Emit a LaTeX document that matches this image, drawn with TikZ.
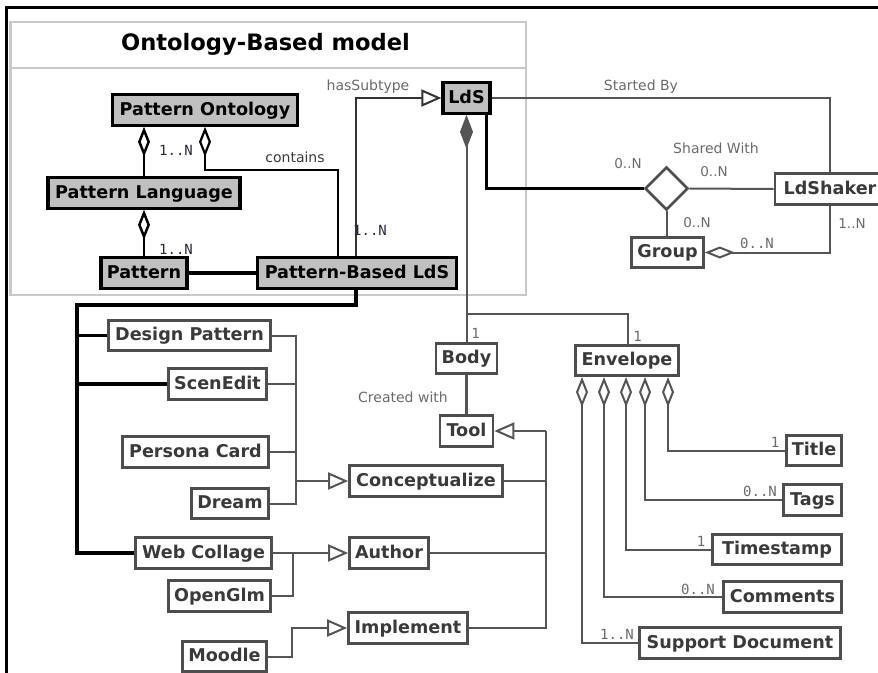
\documentclass[tikz,border=0pt]{standalone}
\usepackage{fontspec}
\setmainfont{DejaVu Sans}
\newfontfamily\monofont{DejaVu Sans Mono}
\usetikzlibrary{arrows.meta,shapes.geometric}
\definecolor{linegrey}{HTML}{555555}
\definecolor{boxgrey}{HTML}{4E4E4E}
\definecolor{textgrey}{HTML}{3A3A3A}
\definecolor{labelgrey}{HTML}{6A6A6A}
\definecolor{ontofill}{HTML}{C0C0C0}
\definecolor{pkggrey}{HTML}{C9C9C9}
\definecolor{multdark}{HTML}{2A2A38}
\begin{document}
\begin{tikzpicture}[x=1pt,y=-1pt,
  nodefont/.style={font=\bfseries\fontsize{17.6}{20}\selectfont},
  cls/.style={draw=boxgrey, line width=2.7pt, fill=white, text=textgrey, nodefont,
    inner sep=0pt, minimum height=30.5pt, text height=13pt, text depth=3pt},
  onto/.style={cls, draw=black, fill=ontofill, text=black, line width=3.2pt},
  conn/.style={draw=linegrey, line width=2pt},
  strong/.style={draw=black, line width=3.5pt},
  agg/.style={conn, {Diamond[length=30pt,width=12pt,fill=white]}-},
  comp/.style={conn, {Diamond[length=34pt,width=13pt,fill=linegrey]}-},
  gen/.style={conn, -{Triangle[length=20pt,width=17pt,fill=white]}},
  lbl/.style={font=\fontsize{14}{16}\selectfont, text=labelgrey, inner sep=0pt},
  mult/.style={font=\monofont\fontsize{14}{16}\selectfont, text=labelgrey, inner sep=0pt},
  pmult/.style={font=\fontsize{13.5}{16}\selectfont, text=labelgrey, inner sep=0pt},
]
\clip (0,0) rectangle (878,672);

% page frame
\draw[black, line width=3pt] (6.5,690) -- (6.5,7.5) -- (890,7.5);

% ontology package
\draw[pkggrey, line width=2.5pt] (10.5,22) rectangle (526,295);
\draw[pkggrey, line width=2.5pt] (10.5,68) -- (526,68);
\node[font=\bfseries\fontsize{22.6}{25}\selectfont, text=black] (pkgtitle) at (265.5,44) {Ontology-Based model};

% ontology classes
\node[onto, minimum width=185pt] (po)  at (205,110)   {Pattern Ontology};
\node[onto, minimum width=192pt] (pl)  at (144,193)   {Pattern Language};
\node[onto, minimum width=86pt]  (pat) at (144,273)   {Pattern};
\node[onto, minimum width=199pt] (pbl) at (357,273)   {Pattern-Based LdS};
\node[onto, minimum width=47pt]  (lds) at (466.5,98)  {LdS};

% LdS neighbourhood
\node[cls, minimum width=110pt] (shaker) at (830,189)   {LdShaker};
\node[cls, minimum width=72pt]  (group)  at (667.5,252.5) {Group};
\node[draw=boxgrey, line width=2.7pt, fill=white, diamond, minimum width=43pt,
      minimum height=43pt, inner sep=0pt] (sw) at (666.5,188.5) {};

\node[cls, minimum width=61pt]  (body)  at (466.5,358.5) {Body};
\node[cls, minimum width=53pt]  (tool)  at (466.5,431)   {Tool};
\node[cls, minimum width=103pt] (env)   at (627,360.5)   {Envelope};

\node[cls, minimum width=55pt]  (title) at (814,450.5) {Title};
\node[cls, minimum width=58pt]  (tags)  at (812.5,500) {Tags};
\node[cls, minimum width=129pt] (tstamp) at (777,549.5) {Timestamp};
\node[cls, minimum width=118pt] (comm)  at (782.5,597) {Comments};
\node[cls, minimum width=201pt] (sdoc)  at (740,643)   {Support Document};

% tools
\node[cls, minimum width=162pt] (dp)    at (189.5,335.5) {Design Pattern};
\node[cls, minimum width=98pt]  (se)    at (217.5,384)   {ScenEdit};
\node[cls, minimum width=146pt] (pc)    at (195.5,452)   {Persona Card};
\node[cls, minimum width=77pt]  (dream) at (230,503.5)   {Dream};
\node[cls, minimum width=136pt] (wc)    at (203.5,553)   {Web Collage};
\node[cls, minimum width=102pt] (og)    at (219.5,596)   {OpenGlm};
\node[cls, minimum width=84pt]  (moodle) at (224.5,656.5) {Moodle};

\node[cls, minimum width=153pt] (concept) at (426,481)  {Conceptualize};
\node[cls, minimum width=79pt]  (author)  at (389,553)  {Author};
\node[cls, minimum width=119pt] (impl)    at (408,628)  {Implement};

% bend points
\coordinate (cont) at (338,170);
\coordinate (tree) at (77,305);
\coordinate (shx)  at (830,0);
\coordinate (envj) at (0,314);
\coordinate (cbus) at (296,0);
\coordinate (abus) at (293,0);
\coordinate (ibus) at (292,0);
\coordinate (tbus) at (546,0);

% ontology relations
\draw[agg, draw=black, line width=2.5pt] (pl.north |- po.south) -- (pl.north);
\draw[agg, draw=black, line width=2.5pt] (pl.south) -- (pat.north);
\draw[agg, draw=black, line width=2.2pt] (po.south) |- (cont) -- (cont |- pbl.north);
\draw[strong] (pat.east) -- (pbl.west);
\draw[gen, draw=black!80] ([xshift=-1pt]pbl.north) |- (lds.west);

% LdS relations
\draw[conn] (lds.east) -| (shx |- shaker.north);
\draw[strong] ([xshift=-5pt]lds.south east) |- (sw.west);
\draw[conn] (sw.east) -- (shaker.west);
\draw[conn] (sw.south) -- (sw.south |- group.north);
\draw[agg] (group.east) -| (shx |- shaker.south);
\draw[comp] (lds.south) -- (body.north);
\draw[conn] (lds.south |- envj) -| ([xshift=1pt]env.north);
\draw[conn, line width=3pt] (body.south) -- (tool.north);

% envelope parts
\draw[agg] ([xshift=41pt]env.south)  |- (title.west);
\draw[agg] ([xshift=18pt]env.south)  |- (tags.west);
\draw[agg] ([xshift=-1pt]env.south)  |- (tstamp.west);
\draw[agg] ([xshift=-23pt]env.south) |- (comm.west);
\draw[agg] ([xshift=-45pt]env.south) |- (sdoc.west);

% pattern-based LdS uses
\draw[strong] ([xshift=-1pt]pbl.south) |- (tree) |- (wc.west);
\draw[strong] (tree |- dp.west) -- (dp.west);
\draw[strong] (tree |- se.west) -- (se.west);

% generalisations into activities
\draw[conn] (dp.east) -| (cbus |- dream.east) -- (dream.east);
\draw[conn] (se.east) -- (se.east -| cbus);
\draw[conn] (pc.east) -- (pc.east -| cbus);
\draw[gen] (cbus |- concept.west) -- (concept.west);
\draw[gen] (wc.east) -- (author.west);
\draw[conn] (og.east) -| (abus |- wc.east);
\draw[gen] (moodle.east) -| (ibus |- impl.west) -- (impl.west);

% activities generalise to tool
\draw[gen] (tbus |- tool.east) -- (tool.east);
\draw[conn] (tbus |- tool.east) -- (tbus |- impl.east) -- (impl.east);
\draw[conn] (concept.east) -- (concept.east -| tbus);
\draw[conn] (author.east) -- (author.east -| tbus);

% labels
\node[mult, text=multdark] (m1) at (176,150) {1..N};
\node[mult, text=multdark] (m2) at (176,249) {1..N};
\node[mult, text=multdark] (m3) at (370,230) {1..N};
\node[lbl, text=textgrey] (lcont) at (295,157) {contains};
\node[lbl] (lsub) at (368,87) {hasSubtype};
\node[lbl] (lstart) at (641,87) {Started By};
\node[lbl] (lshare) at (716,148) {Shared With};
\node[pmult] (m4) at (628,164) {0..N};
\node[pmult] (m5) at (714,172) {0..N};
\node[pmult] (m6) at (697,223) {0..N};
\node[mult] (m7) at (757,243) {0..N};
\node[pmult] (m8) at (852,224) {1..N};
\node[mult] (m9) at (475.5,333) {1};
\node[mult] (m10) at (637.5,336) {1};
\node[lbl] (lcreated) at (403,397) {Created with};
\node[mult] (m11) at (775,442) {1};
\node[mult] (m12) at (760,491) {0..N};
\node[mult] (m13) at (701,541) {1};
\node[mult] (m14) at (698,589) {0..N};
\node[mult] (m15) at (617,634) {1..N};
\end{tikzpicture}
\end{document}
